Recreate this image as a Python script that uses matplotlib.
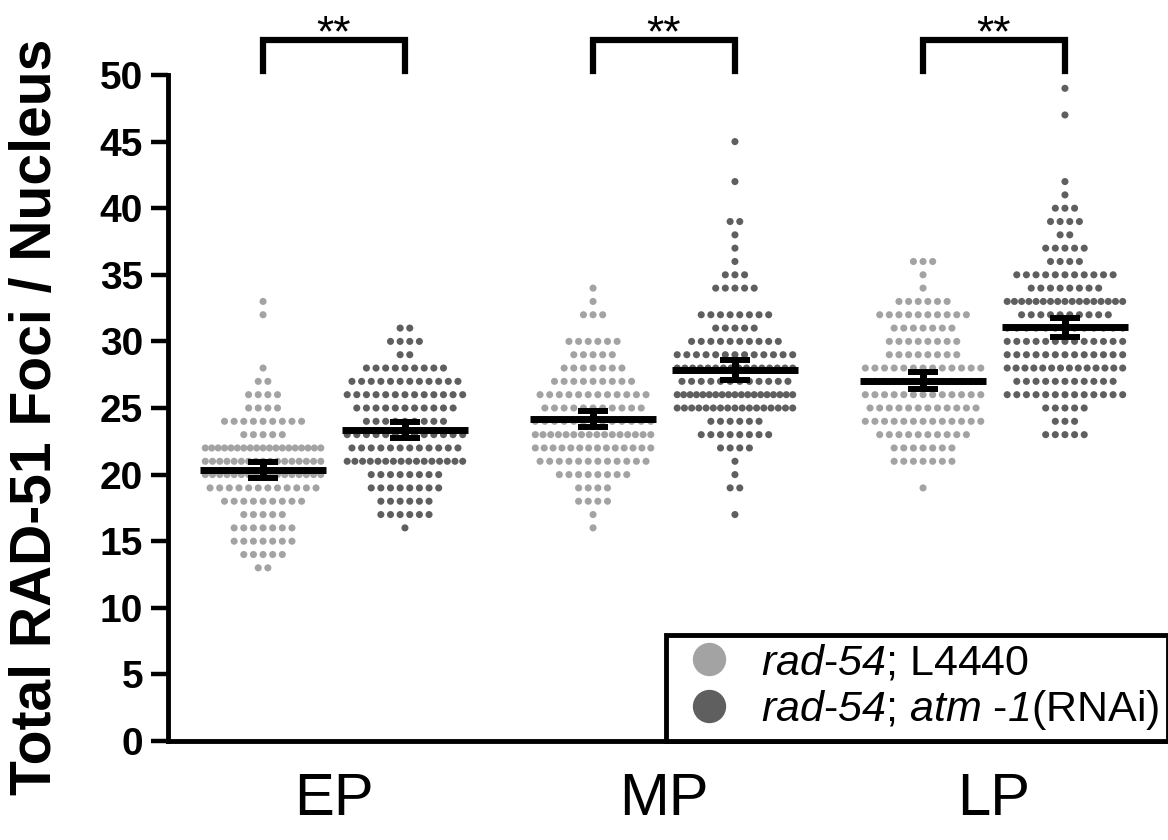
import numpy as np
import matplotlib
matplotlib.use("Agg")
import matplotlib.pyplot as plt
from matplotlib.lines import Line2D

plt.rcParams['font.family'] = ['Liberation Sans', 'DejaVu Sans']
plt.rcParams['mathtext.fontset'] = 'custom'
plt.rcParams['mathtext.rm'] = 'Liberation Sans'
plt.rcParams['mathtext.it'] = 'Liberation Sans:italic'
plt.rcParams['mathtext.sf'] = 'Liberation Sans:italic'

# ---- data (value -> number of nuclei) ----
stages = ["EP", "MP", "LP"]
series_names = [r"$\mathsf{rad}$-$\mathsf{54}$; L4440",
                r"$\mathsf{rad}$-$\mathsf{54}$; $\mathsf{atm}$ -$\mathsf{1}$(RNAi)"]

ep_l4440_vals = [33, 32, 28, 27, 26, 25, 24, 23, 22, 21, 20, 19, 18, 17, 16, 15, 14, 13]
ep_l4440_cnts = [1, 1, 1, 2, 4, 4, 9, 5, 19, 17, 17, 12, 9, 5, 7, 7, 5, 2]

ep_atm_vals = [31, 30, 29, 28, 27, 26, 25, 24, 23, 22, 21, 20, 19, 18, 17, 16]
ep_atm_cnts = [2, 4, 2, 9, 12, 13, 11, 9, 13, 12, 16, 8, 8, 6, 6, 1]

mp_l4440_vals = [34, 33, 32, 30, 29, 28, 27, 26, 25, 24, 23, 22, 21, 20, 19, 18, 17, 16]
mp_l4440_cnts = [1, 1, 3, 6, 5, 7, 9, 12, 11, 13, 16, 14, 12, 8, 4, 4, 1, 1]

mp_atm_vals = [45, 42, 39, 38, 37, 36, 35, 34, 32, 31, 30, 29, 28, 27, 26, 25, 24, 23, 22, 21, 20, 19, 17]
mp_atm_cnts = [1, 1, 2, 1, 1, 1, 3, 5, 8, 5, 10, 13, 16, 12, 19, 17, 6, 8, 4, 1, 1, 2, 1]

lp_l4440_vals = [36, 35, 34, 33, 32, 31, 30, 29, 28, 27, 26, 25, 24, 23, 22, 21, 19]
lp_l4440_cnts = [3, 1, 1, 6, 10, 7, 8, 8, 13, 13, 13, 12, 13, 10, 7, 7, 1]

lp_atm_vals = [49, 47, 42, 41, 40, 39, 38, 37, 36, 35, 34, 33, 32, 31, 30, 29, 28, 27, 26, 25, 24, 23]
lp_atm_cnts = [1, 1, 1, 1, 3, 4, 2, 5, 4, 11, 8, 17, 10, 13, 13, 13, 14, 11, 13, 5, 3, 5]

sig_labels = ["**", "**", "**"]

groups = [
    (0, 0, ep_l4440_vals, ep_l4440_cnts),
    (0, 1, ep_atm_vals, ep_atm_cnts),
    (1, 0, mp_l4440_vals, mp_l4440_cnts),
    (1, 1, mp_atm_vals, mp_atm_cnts),
    (2, 0, lp_l4440_vals, lp_l4440_cnts),
    (2, 1, lp_atm_vals, lp_atm_cnts),
]

colors = ["#a3a3a3", "#5f5f5f"]

fig = plt.figure(figsize=(11.68, 8.4), dpi=100)
ax = fig.add_axes([168 / 1168, 1 - 741 / 840, 1000 / 1168, 666 / 840])

offset = 0.215
step = 0.0292
maxspan = 0.35

for g, s, vals, cnts in groups:
    xc = g + 1 + (offset if s else -offset)
    xs, ys = [], []
    for v, n in zip(vals, cnts):
        sp = step if n <= 1 else min(step, maxspan / (n - 1))
        off = (np.arange(n) - (n - 1) / 2) * sp
        xs.extend(xc + off)
        ys.extend([v] * n)
    ax.scatter(xs, ys, s=26, color=colors[s], edgecolors='none', zorder=2, clip_on=False)
    data = np.repeat(vals, cnts).astype(float)
    m = data.mean()
    ci = 1.96 * data.std(ddof=1) / np.sqrt(len(data))
    ax.hlines(m, xc - 0.19, xc + 0.19, color='black', lw=5, zorder=4)
    ax.errorbar(xc, m, yerr=ci, fmt='none', ecolor='black', elinewidth=5,
                capsize=11, capthick=4.3, zorder=4)

# significance brackets
for g in range(3):
    x1 = g + 1 - offset
    x2 = g + 1 + offset
    ax.plot([x1, x1, x2, x2], [50.3, 52.6, 52.6, 50.3], color='black', lw=4.5,
            clip_on=False, solid_joinstyle='miter', zorder=5)
    ax.text(g + 1, 52.15, sig_labels[g], ha='center', va='baseline', fontsize=32, clip_on=False)

ax.set_xlim(1 - 166 / 330, 3 + 174 / 330)
ax.set_ylim(0, 50)
ax.set_yticks(np.arange(0, 51, 5))
ax.set_xticks([1, 2, 3])
ax.set_xticklabels(stages, fontsize=43)
ax.tick_params(axis='x', length=0, pad=22)
ax.tick_params(axis='y', length=12, width=3.2, pad=6, labelsize=28)
for lab in ax.get_yticklabels():
    lab.set_fontweight('bold')

for sp in ['top', 'right']:
    ax.spines[sp].set_visible(False)
for sp in ['left', 'bottom']:
    ax.spines[sp].set_linewidth(3.5)

ax.set_ylabel("Total RAD-51 Foci / Nucleus", fontsize=41, fontweight='bold')
ax.yaxis.set_label_coords(-0.105, 0.487)

handles = [Line2D([], [], marker='o', linestyle='none', markersize=24,
                  markerfacecolor=c, markeredgecolor='none') for c in colors]
leg = ax.legend(handles, series_names, loc='lower right', bbox_to_anchor=(1.0, 0.0),
                borderaxespad=0, fancybox=False, frameon=True, framealpha=1.0, fontsize=31,
                handletextpad=0.4, labelspacing=0.12, borderpad=0.2, handlelength=1.6)
leg.get_frame().set_edgecolor('black')
leg.get_frame().set_linewidth(3.5)
leg.set_zorder(6)

fig.savefig("out.png", dpi=100, facecolor='white')
